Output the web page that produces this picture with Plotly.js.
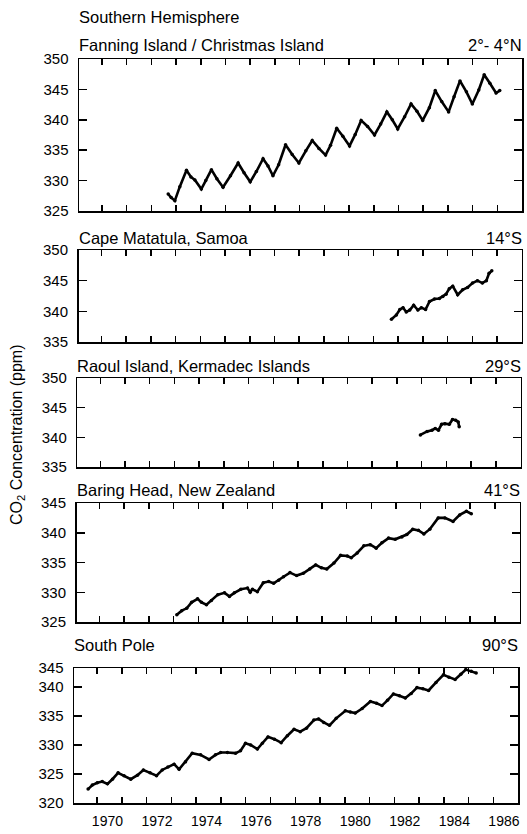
<!DOCTYPE html>
<html>
<head>
<meta charset="utf-8">
<script src="https://cdn.plot.ly/plotly-3.0.1.min.js"></script>
<style>html,body{margin:0;padding:0;background:#fff;}#chart{width:527px;height:834px;}</style>
</head>
<body>
<div id="chart"></div>
<script>
// ---------------- DATA ----------------
const figureTitle = "Southern Hemisphere";
const stationNames = ["Fanning Island / Christmas Island", "Cape Matatula, Samoa", "Raoul Island, Kermadec Islands", "Baring Head, New Zealand", "South Pole"];
const stationLatitudes = ["2°- 4°N", "14°S", "29°S", "41°S", "90°S"];
const yAxisTitle = "CO<sub>2</sub> Concentration (ppm)";

const fanningYears = [1972.68,1972.80,1972.95,1973.15,1973.42,1973.60,1973.76,1974.02,1974.20,1974.43,1974.65,1974.90,1975.20,1975.51,1975.75,1976.00,1976.25,1976.52,1976.72,1976.92,1977.15,1977.43,1977.70,1977.97,1978.25,1978.51,1978.78,1979.05,1979.25,1979.50,1979.75,1980.02,1980.25,1980.49,1980.75,1981.03,1981.28,1981.53,1981.75,1981.97,1982.25,1982.51,1982.75,1982.98,1983.25,1983.49,1983.75,1984.03,1984.25,1984.49,1984.75,1984.99,1985.25,1985.47,1985.70,1985.95,1986.10];
const fanningCO2 = [327.8,327.2,326.7,329.0,331.7,330.6,330.1,328.6,330.0,331.8,330.3,328.9,330.8,332.9,331.3,329.8,331.5,333.6,332.4,330.8,332.6,335.9,334.3,332.9,334.9,336.6,335.3,334.2,335.8,338.6,337.3,335.7,337.6,339.9,338.9,337.5,339.3,341.3,340.0,338.5,340.5,342.6,341.4,339.9,342.0,344.8,343.0,341.3,343.8,346.4,344.6,342.6,344.9,347.4,346.0,344.4,344.8];

const samoaYears = [1981.73,1981.93,1982.07,1982.20,1982.33,1982.47,1982.63,1982.80,1982.94,1983.11,1983.27,1983.47,1983.67,1983.81,1983.94,1984.07,1984.21,1984.41,1984.61,1984.81,1985.01,1985.21,1985.41,1985.57,1985.68,1985.79];
const samoaCO2 = [338.7,339.4,340.3,340.6,339.9,340.2,341.0,340.2,340.6,340.3,341.6,342.0,342.1,342.4,342.8,343.7,344.1,342.7,343.5,343.9,344.6,345.0,344.6,345.0,346.2,346.6];

const raoulYears = [1982.95,1983.22,1983.42,1983.55,1983.68,1983.81,1983.94,1984.12,1984.25,1984.38,1984.48,1984.52];
const raoulCO2 = [340.4,341.0,341.2,341.5,341.2,342.2,342.3,342.2,343.0,342.9,342.6,341.8];

const baringYears = [1973.13,1973.33,1973.53,1973.73,1973.97,1974.13,1974.33,1974.53,1974.79,1975.06,1975.26,1975.46,1975.72,1975.99,1976.10,1976.19,1976.39,1976.63,1976.85,1977.05,1977.25,1977.45,1977.71,1977.98,1978.25,1978.51,1978.75,1978.98,1979.20,1979.49,1979.76,1980.03,1980.19,1980.43,1980.70,1980.96,1981.20,1981.43,1981.70,1981.97,1982.24,1982.44,1982.68,1982.91,1983.13,1983.37,1983.71,1983.98,1984.31,1984.58,1984.85,1985.05];
const baringCO2 = [326.2,326.9,327.3,328.3,328.9,328.3,327.9,328.6,329.6,329.9,329.3,329.9,330.5,330.7,330.0,330.5,330.1,331.6,331.8,331.5,332.0,332.6,333.3,332.8,333.2,333.9,334.6,334.1,333.9,334.9,336.2,336.1,335.8,336.6,337.8,338.0,337.4,338.3,339.1,338.9,339.3,339.7,340.6,340.4,339.8,340.6,342.5,342.5,341.9,343.0,343.6,343.2];

const southPoleYears = [1969.64,1969.81,1970.01,1970.21,1970.42,1970.62,1970.85,1971.09,1971.36,1971.63,1971.87,1972.14,1972.40,1972.63,1972.86,1973.11,1973.31,1973.57,1973.84,1974.18,1974.52,1974.78,1974.99,1975.26,1975.59,1975.79,1975.99,1976.20,1976.47,1976.67,1976.90,1977.16,1977.43,1977.68,1977.95,1978.20,1978.45,1978.75,1978.94,1979.15,1979.38,1979.65,1980.02,1980.22,1980.42,1980.70,1981.03,1981.28,1981.50,1981.72,1981.96,1982.20,1982.44,1982.68,1982.91,1983.15,1983.38,1983.68,1983.98,1984.20,1984.45,1984.68,1984.88,1985.10,1985.30];
const southPoleCO2 = [322.4,323.1,323.5,323.7,323.3,324.1,325.2,324.7,324.1,324.8,325.7,325.2,324.7,325.7,326.2,326.7,325.8,327.1,328.6,328.3,327.5,328.3,328.7,328.7,328.6,329.0,330.3,330.0,329.3,330.3,331.4,331.0,330.4,331.6,332.7,332.3,332.9,334.3,334.5,333.9,333.4,334.6,335.9,335.7,335.5,336.3,337.5,337.2,336.8,337.7,338.8,338.5,338.1,338.9,339.9,339.7,339.4,340.8,342.1,341.7,341.3,342.2,343.0,342.7,342.4];

const tickYears = [1970,1971,1972,1973,1974,1975,1976,1977,1978,1979,1980,1981,1982,1983,1984,1985,1986];
const labelYears = [1970,1972,1974,1976,1978,1980,1982,1984,1986];
const yearLabels = ["1970","1972","1974","1976","1978","1980","1982","1984","1986"];

const yTickValues = [
  [325,330,335,340,345,350],
  [335,340,345,350],
  [335,340,345,350],
  [325,330,335,340,345],
  [320,325,330,335,340,343.28]
];
const yTickLabels = [
  ["325","330","335","340","345","350"],
  ["335","340","345","350"],
  ["335","340","345","350"],
  ["325","330","335","340","345"],
  ["320","325","330","335","340","345"]
];

// ---------------- LAYOUT ----------------
const W = 527, H = 834;
const FONT = "Liberation Sans, Arial, Helvetica, sans-serif";
const px = v => v / W;
const py = v => 1 - v / H;

const seriesX = [fanningYears, samoaYears, raoulYears, baringYears, southPoleYears];
const seriesY = [fanningCO2, samoaCO2, raoulCO2, baringCO2, southPoleCO2];

// panel geometry in pixels: [left, right, top, bottom], y range
const panels = [
  {l:79,   r:522,   t:59,  b:211, yr:[325,350]},
  {l:78.5, r:521.7, t:250, b:342, yr:[335,350]},
  {l:77.3, r:520.5, t:378, b:467, yr:[335,350]},
  {l:76.5, r:519.5, t:503, b:622, yr:[325,345]},
  {l:74,   r:518.3, t:668, b:803, yr:[320,343.28]}
];
const titleY = [44.5, 238, 366, 489.5, 645];
const xRange = [1969.07, 1987.0];

const traces = [];
const layout = {
  width: W, height: H,
  margin: {l:0, r:0, t:0, b:0},
  paper_bgcolor: "#fff", plot_bgcolor: "#fff",
  showlegend: false,
  font: {family: FONT, color: "#000", size: 14},
  annotations: []
};

panels.forEach((p, i) => {
  const n = i + 1;
  const xa = n === 1 ? "x" : "x" + n;
  const ya = n === 1 ? "y" : "y" + n;
  traces.push({
    x: seriesX[i], y: seriesY[i], xaxis: xa, yaxis: ya,
    type: "scatter", mode: "lines+markers",
    line: {color: "#000", width: 2.6},
    marker: {color: "#000", size: 3.5},
    hoverinfo: "skip"
  });
  layout["xaxis" + (n === 1 ? "" : n)] = {
    domain: [px(p.l), px(p.r)], range: xRange, anchor: ya,
    tickmode: "array", tickvals: tickYears, showticklabels: false,
    ticks: "inside", ticklen: 6, tickwidth: 1.5, tickcolor: "#000",
    showline: true, linewidth: 1.5, linecolor: "#000", mirror: "ticks",
    showgrid: false, zeroline: false, fixedrange: true
  };
  layout["yaxis" + (n === 1 ? "" : n)] = {
    domain: [py(p.b), py(p.t)], range: p.yr, anchor: xa,
    tickmode: "array", tickvals: yTickValues[i], ticktext: yTickLabels[i],
    ticks: "inside", ticklen: 8, tickwidth: 1.5, tickcolor: "#000",
    ticklabelstandoff: 6,
    tickfont: {family: FONT, size: 15, color: "#000"},
    showline: true, linewidth: 1.5, linecolor: "#000", mirror: "ticks",
    showgrid: false, zeroline: false, fixedrange: true
  };
  layout.annotations.push({
    xref: "paper", yref: "paper", x: px(p.l - 2), y: py(titleY[i]),
    xanchor: "left", yanchor: "middle", showarrow: false,
    text: stationNames[i], font: {family: FONT, size: 16.5, color: "#000"}
  });
  layout.annotations.push({
    xref: "paper", yref: "paper", x: px(p.r + 2), y: py(titleY[i]),
    xanchor: "right", yanchor: "middle", showarrow: false,
    text: stationLatitudes[i], font: {family: FONT, size: 16.5, color: "#000"}
  });
});

// year labels centred between ticks on an overlaying axis of the bottom panel
traces.push({x: [], y: [], xaxis: "x6", yaxis: "y5", type: "scatter", mode: "lines", hoverinfo: "skip"});
layout.xaxis6 = {
  overlaying: "x5", anchor: "y5", side: "bottom", range: xRange,
  tickmode: "array", tickvals: labelYears.map(v => v + 0.42), ticktext: yearLabels,
  ticks: "", showline: false, showgrid: false, zeroline: false,
  ticklabelstandoff: 8,
  tickfont: {family: FONT, size: 14, color: "#000"}, fixedrange: true
};

layout.annotations.push({
  xref: "paper", yref: "paper", x: px(77), y: py(17),
  xanchor: "left", yanchor: "middle", showarrow: false,
  text: figureTitle, font: {family: FONT, size: 16.5, color: "#000"}
});
layout.annotations.push({
  xref: "paper", yref: "paper", x: px(17), y: py(435),
  xanchor: "center", yanchor: "middle", showarrow: false, textangle: -90,
  text: yAxisTitle, font: {family: FONT, size: 16, color: "#000"}
});

Plotly.newPlot("chart", traces, layout, {displayModeBar: false, staticPlot: true});
</script>
</body>
</html>
